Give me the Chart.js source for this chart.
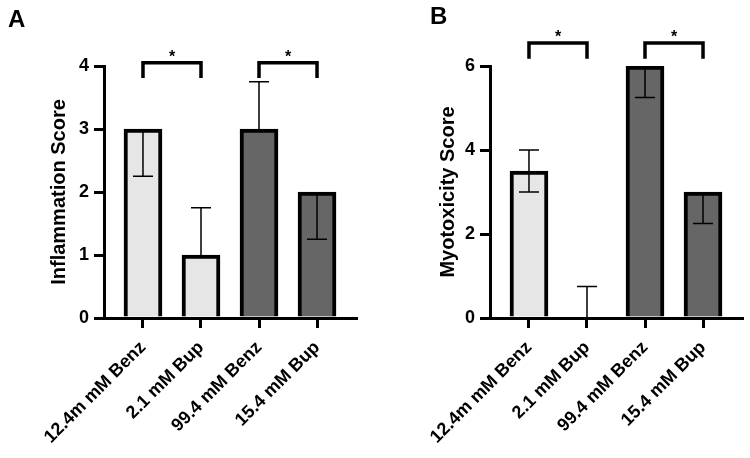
<!DOCTYPE html>
<html>
<head>
<meta charset="utf-8">
<script src="https://cdn.jsdelivr.net/npm/chart.js@4.4.1/dist/chart.umd.min.js"></script>
<style>
  html, body { margin: 0; padding: 0; background: #ffffff; }
  body { width: 750px; height: 458px; position: relative; overflow: hidden; font-family: Arial, "Liberation Sans", Helvetica, sans-serif; }
  .panel { position: absolute; top: 0; width: 375px; height: 458px; }
  .letter { position: absolute; font: bold 24px/24px Arial, "Liberation Sans", Helvetica, sans-serif; color: #000; }
</style>
</head>
<body>
<div class="panel" style="left:0px"><canvas id="chartA" width="375" height="458"></canvas></div>
<div class="panel" style="left:375px"><canvas id="chartB" width="375" height="458"></canvas></div>
<div class="letter" style="left:8px; top:7px;">A</div>
<div class="letter" style="left:430px; top:4px;">B</div>
<script>
// ---------- data ----------
const categories = ['12.4m mM Benz', '2.1 mM Bup', '99.4 mM Benz', '15.4 mM Bup'];

const inflammationMean = [3, 1, 3, 2];
const inflammationErrUp = [0, 0.75, 0.75, 0];
const inflammationErrDown = [0.75, 0, 0, 0.75];
const inflammationTicks = [0, 1, 2, 3, 4];

const myotoxicityMean = [3.5, 0, 6, 3];
const myotoxicityErrUp = [0.5, 0.75, 0, 0];
const myotoxicityErrDown = [0.5, 0, 0.75, 0.75];
const myotoxicityTicks = [0, 2, 4, 6];

const significantPairs = [[0, 1], [2, 3]];
const significanceLabel = '*';

// ---------- styling ----------
const FONT = 'Arial, "Liberation Sans", Helvetica, sans-serif';
const LIGHT = '#e6e6e6';
const DARK = '#666666';
const barColors = [LIGHT, LIGHT, DARK, DARK];

Chart.defaults.font.family = FONT;
Chart.defaults.color = '#000';

const annotatePlugin = {
  id: 'annotate',
  afterDatasetsDraw(chart, args, opts) {
    const ctx = chart.ctx;
    const meta = chart.getDatasetMeta(0);
    const ys = chart.scales.y;
    const vals = chart.data.datasets[0].data.map(d => d.y);
    ctx.save();
    ctx.strokeStyle = '#000';
    ctx.lineWidth = 1.5;
    meta.data.forEach((bar, i) => {
      const x = bar.x;
      const v = vals[i];
      const half = opts.capWidth / 2;
      const ends = [];
      if (opts.up[i] > 0) ends.push(v + opts.up[i]);
      if (opts.down[i] > 0) ends.push(v - opts.down[i]);
      ends.forEach(e => {
        const y0 = ys.getPixelForValue(v);
        const y1 = ys.getPixelForValue(e);
        ctx.beginPath();
        ctx.moveTo(x, y0);
        ctx.lineTo(x, y1);
        ctx.moveTo(x - half, y1);
        ctx.lineTo(x + half, y1);
        ctx.stroke();
      });
    });
    ctx.restore();
  },
  afterDraw(chart, args, opts) {
    const ctx = chart.ctx;
    const xs = chart.scales.x;
    const ys = chart.scales.y;
    ctx.save();
    ctx.strokeStyle = '#000';
    ctx.lineWidth = 3.5;
    ctx.lineJoin = 'miter';
    ctx.lineCap = 'butt';
    opts.pairs.forEach(([a, b]) => {
      const x1 = xs.getPixelForValue(a);
      const x2 = xs.getPixelForValue(b);
      const yTop = ys.getPixelForValue(opts.bracketY);
      const yLeg = ys.getPixelForValue(opts.legY);
      ctx.beginPath();
      ctx.moveTo(x1, yLeg);
      ctx.lineTo(x1, yTop);
      ctx.lineTo(x2, yTop);
      ctx.lineTo(x2, yLeg);
      ctx.stroke();
      ctx.fillStyle = '#000';
      ctx.font = 'bold 16px ' + FONT;
      ctx.textAlign = 'center';
      ctx.textBaseline = 'alphabetic';
      ctx.fillText(opts.label, (x1 + x2) / 2, yTop - 1);
    });
    ctx.restore();
  }
};

function makeChart(id, cfg) {
  return new Chart(document.getElementById(id), {
    type: 'bar',
    data: {
      datasets: [{
        data: cfg.mean.map((v, i) => ({ x: i, y: v })),
        backgroundColor: barColors,
        borderColor: '#000',
        borderWidth: 4,
        borderSkipped: 'start',
        barThickness: 38
      }]
    },
    plugins: [annotatePlugin],
    options: {
      responsive: false,
      devicePixelRatio: 1,
      animation: false,
      layout: { padding: { top: 66, right: cfg.padRight, left: cfg.padLeft, bottom: 0 } },
      plugins: {
        legend: { display: false },
        tooltip: { enabled: false },
        annotate: {
          up: cfg.errUp, down: cfg.errDown, capWidth: 20,
          pairs: significantPairs, label: significanceLabel,
          bracketY: cfg.bracketY, legY: cfg.legY
        }
      },
      scales: {
        x: {
          type: 'linear',
          offset: false,
          min: -0.672,
          max: categories.length - 1 + 0.672,
          afterBuildTicks: s => { s.ticks = categories.map((_, i) => ({ value: i })); },
          afterFit: s => { s.height = 140; },
          ticks: {
            callback: v => categories[v] !== undefined ? categories[v] : '',
            minRotation: 45, maxRotation: 45,
            autoSkip: false,
            font: { size: 18, weight: 'bold' },
            color: '#000',
            padding: 9
          },
          grid: { offset: false, drawOnChartArea: false, drawTicks: true, tickLength: 10, lineWidth: 3, color: '#000' },
          border: { display: true, width: 3, color: '#000' }
        },
        y: {
          min: 0,
          max: cfg.ticks[cfg.ticks.length - 1],
          afterBuildTicks: s => { s.ticks = cfg.ticks.map(v => ({ value: v })); },
          afterFit: s => { s.width = cfg.yWidth; },
          ticks: { font: { size: 18, weight: 'bold' }, color: '#000', padding: 5 },
          grid: { drawOnChartArea: false, drawTicks: true, tickLength: 10, lineWidth: 3, color: '#000' },
          border: { display: true, width: 3, color: '#000' },
          title: {
            display: true, text: cfg.title, color: '#000',
            font: { size: 20, weight: 'bold' },
            padding: { top: 12, bottom: 0 }
          }
        }
      }
    }
  });
}

makeChart('chartA', {
  mean: inflammationMean, errUp: inflammationErrUp, errDown: inflammationErrDown,
  ticks: inflammationTicks, title: 'Inflammation Score',
  padLeft: 35, yWidth: 69, padRight: 19,
  bracketY: 4.05, legY: 3.81
});

makeChart('chartB', {
  mean: myotoxicityMean, errUp: myotoxicityErrUp, errDown: myotoxicityErrDown,
  ticks: myotoxicityTicks, title: 'Myotoxicity Score',
  padLeft: 49, yWidth: 66, padRight: 8,
  bracketY: 6.55, legY: 6.17
});
</script>
</body>
</html>
